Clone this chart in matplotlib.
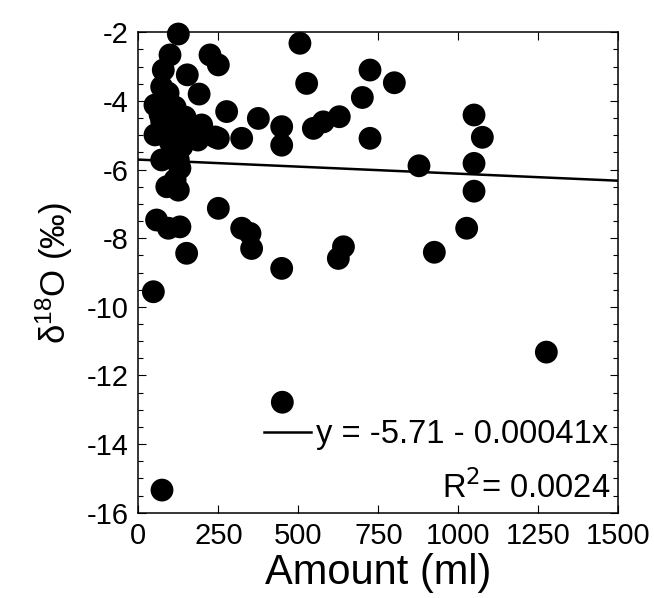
import matplotlib
matplotlib.use('Agg')
import matplotlib.pyplot as plt
import numpy as np

plt.rcParams['font.family'] = ['Liberation Sans', 'DejaVu Sans']
plt.rcParams['axes.unicode_minus'] = False

# rain amount (ml) and d18O (permil)
amount = [125, 99, 224, 250, 78, 153, 73, 190, 52, 276, 375, 448, 448, 323, 250,
          198, 52, 73, 130, 89, 125, 250, 57, 94, 130, 323, 349, 354, 151, 448, 47,
          505, 526, 724, 800, 700, 628, 578, 547, 724, 1049, 1075, 1049, 877, 1049,
          1026, 925, 641, 625,
          450, 1275, 74,
          93, 115, 93, 146, 240, 186, 136, 104, 125, 115,
          73, 100, 160, 110, 68]
d18o = [-2.05, -2.66, -2.66, -2.95, -3.10, -3.24, -3.59, -3.80, -4.12, -4.31, -4.51,
        -4.75, -5.29, -5.09, -5.09, -4.70, -4.99, -5.72, -5.96, -6.50, -6.60, -7.13,
        -7.47, -7.71, -7.67, -7.71, -7.86, -8.30, -8.44, -8.88, -9.56,
        -2.32, -3.49, -3.10, -3.47, -3.90, -4.46, -4.61, -4.80, -5.09, -4.41, -5.06,
        -5.82, -5.89, -6.63, -7.71, -8.41, -8.25, -8.59,
        -12.78, -11.32, -15.34,
        -3.77, -4.18, -4.65, -4.47, -5.05, -5.14, -5.33, -4.94, -5.72, -6.30,
        -4.60, -5.20, -4.90, -5.50, -4.40]

intercept = -5.71
slope = -0.00041
r2 = 0.0024

fig = plt.figure(figsize=(6.54, 5.98), dpi=100)
ax = fig.add_axes([0.2115, 0.1426, 0.734, 0.8034])

ax.scatter(amount, d18o, s=270, c='black', edgecolors='none', zorder=3, clip_on=False)

xfit = np.array([0, 1500])
ax.plot(xfit, intercept + slope * xfit, color='black', lw=1.8, zorder=2,
        label='y = %.2f - %.5fx' % (intercept, -slope))

ax.set_xlim(0, 1500)
ax.set_ylim(-16, -2)
ax.set_xticks([0, 250, 500, 750, 1000, 1250, 1500])
ax.set_yticks(np.arange(-16, -1, 2))
ax.set_yticks(np.arange(-16, -1.9, 0.5), minor=True)
ax.tick_params(direction='in', top=True, right=True, labelsize=21,
               length=6, width=0.8, pad=7)
ax.tick_params(axis='y', which='minor', direction='in', right=True,
               length=3.6, width=0.8)
for s in ax.spines.values():
    s.set_linewidth(1.1)

ax.set_xlabel('Amount (ml)', fontsize=30, labelpad=2)
ax.set_ylabel(r'$\mathregular{\delta^{18}}$O (‰)', fontsize=25, labelpad=8)

ax.legend(loc='lower right', bbox_to_anchor=(1.0, 0.11), frameon=False,
          fontsize=23.5, handlelength=1.45, handletextpad=0.15, borderpad=0.2,
          borderaxespad=0.1)
ax.text(0.983, 0.053, r'R$^{2}$= %.4f' % r2, transform=ax.transAxes,
        ha='right', va='center', fontsize=23.5)

fig.savefig('out.png', dpi=100)
